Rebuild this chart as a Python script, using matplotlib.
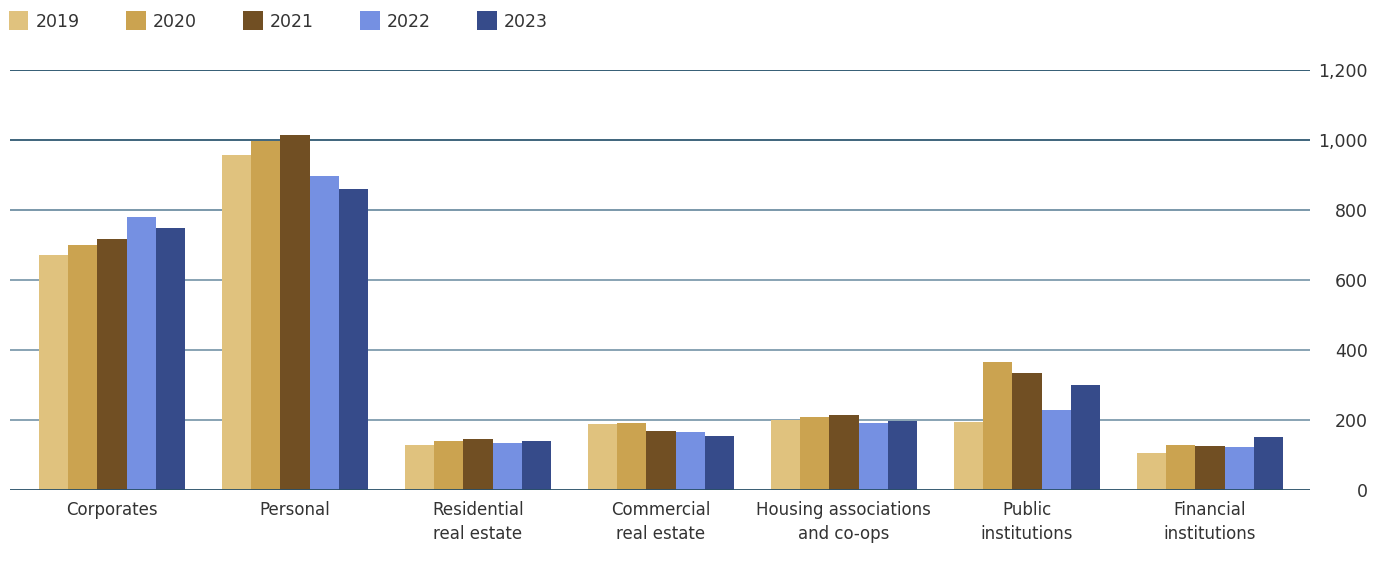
import matplotlib
matplotlib.use("Agg")
import matplotlib.pyplot as plt
import numpy as np
from matplotlib.patches import Patch

categories = ["Corporates", "Personal", "Residential\nreal estate", "Commercial\nreal estate",
              "Housing associations\nand co-ops", "Public\ninstitutions", "Financial\ninstitutions"]
years = ["2019", "2020", "2021", "2022", "2023"]
v2019 = [671, 957, 129, 189, 200, 194, 106]
v2020 = [700, 997, 140, 191, 209, 366, 129]
v2021 = [717, 1014, 146, 169, 214, 334, 126]
v2022 = [780, 897, 134, 166, 191, 229, 123]
v2023 = [749, 860, 140, 154, 197, 300, 151]
series = [v2019, v2020, v2021, v2022, v2023]
colors = ["#E0C27E", "#CBA350", "#714F23", "#7590E2", "#364B8A"]
yticks = [0, 200, 400, 600, 800, 1000, 1200]
ytick_labels = ["0", "200", "400", "600", "800", "1,000", "1,200"]

plt.rcParams['font.family'] = ['DejaVu Sans']
W, H = 1385, 578
fig = plt.figure(figsize=(W / 100, H / 100), dpi=100)
ax = fig.add_axes([10 / W, (H - 490) / H, 1300 / W, 420 / H])

x = np.arange(len(categories))
bw = 0.16
for i, (vals, c) in enumerate(zip(series, colors)):
    ax.bar(x + (i - 2) * bw, vals, width=bw, color=c, zorder=3, linewidth=0)

ax.set_xlim(-0.557, 6.547)
ax.set_ylim(0, 1200)

grid_colors = {0: "#2a5068", 200: "#7f9cae", 400: "#7f9cae", 600: "#7f9cae",
               800: "#6f90a4", 1000: "#2f5872", 1200: "#24506a"}
for t in yticks:
    ax.axhline(t, color=grid_colors[t], linewidth=1.3, zorder=4 if t == 0 else 1)

for s in ax.spines.values():
    s.set_visible(False)

ax.yaxis.tick_right()
ax.set_yticks(yticks)
ax.set_yticklabels(ytick_labels, fontsize=12.5, color="#333333")
ax.tick_params(axis='y', length=0, pad=41.5)
for lab in ax.get_yticklabels():
    lab.set_horizontalalignment('right')

ax.set_xticks(x)
ax.set_xticklabels(categories, fontsize=12, color="#333333", linespacing=1.45)
ax.tick_params(axis='x', length=0, pad=8)

handles = [Patch(facecolor=c, edgecolor='none') for c in colors]
fig.legend(handles, years, loc='upper left', bbox_to_anchor=(-0.002, 1.0), ncol=5,
           frameon=False, fontsize=12.5, handlelength=1.15, handleheight=1.3,
           columnspacing=2.66, handletextpad=0.4, borderaxespad=0.25,
           labelcolor="#333333")

fig.savefig("out.png", dpi=100)
